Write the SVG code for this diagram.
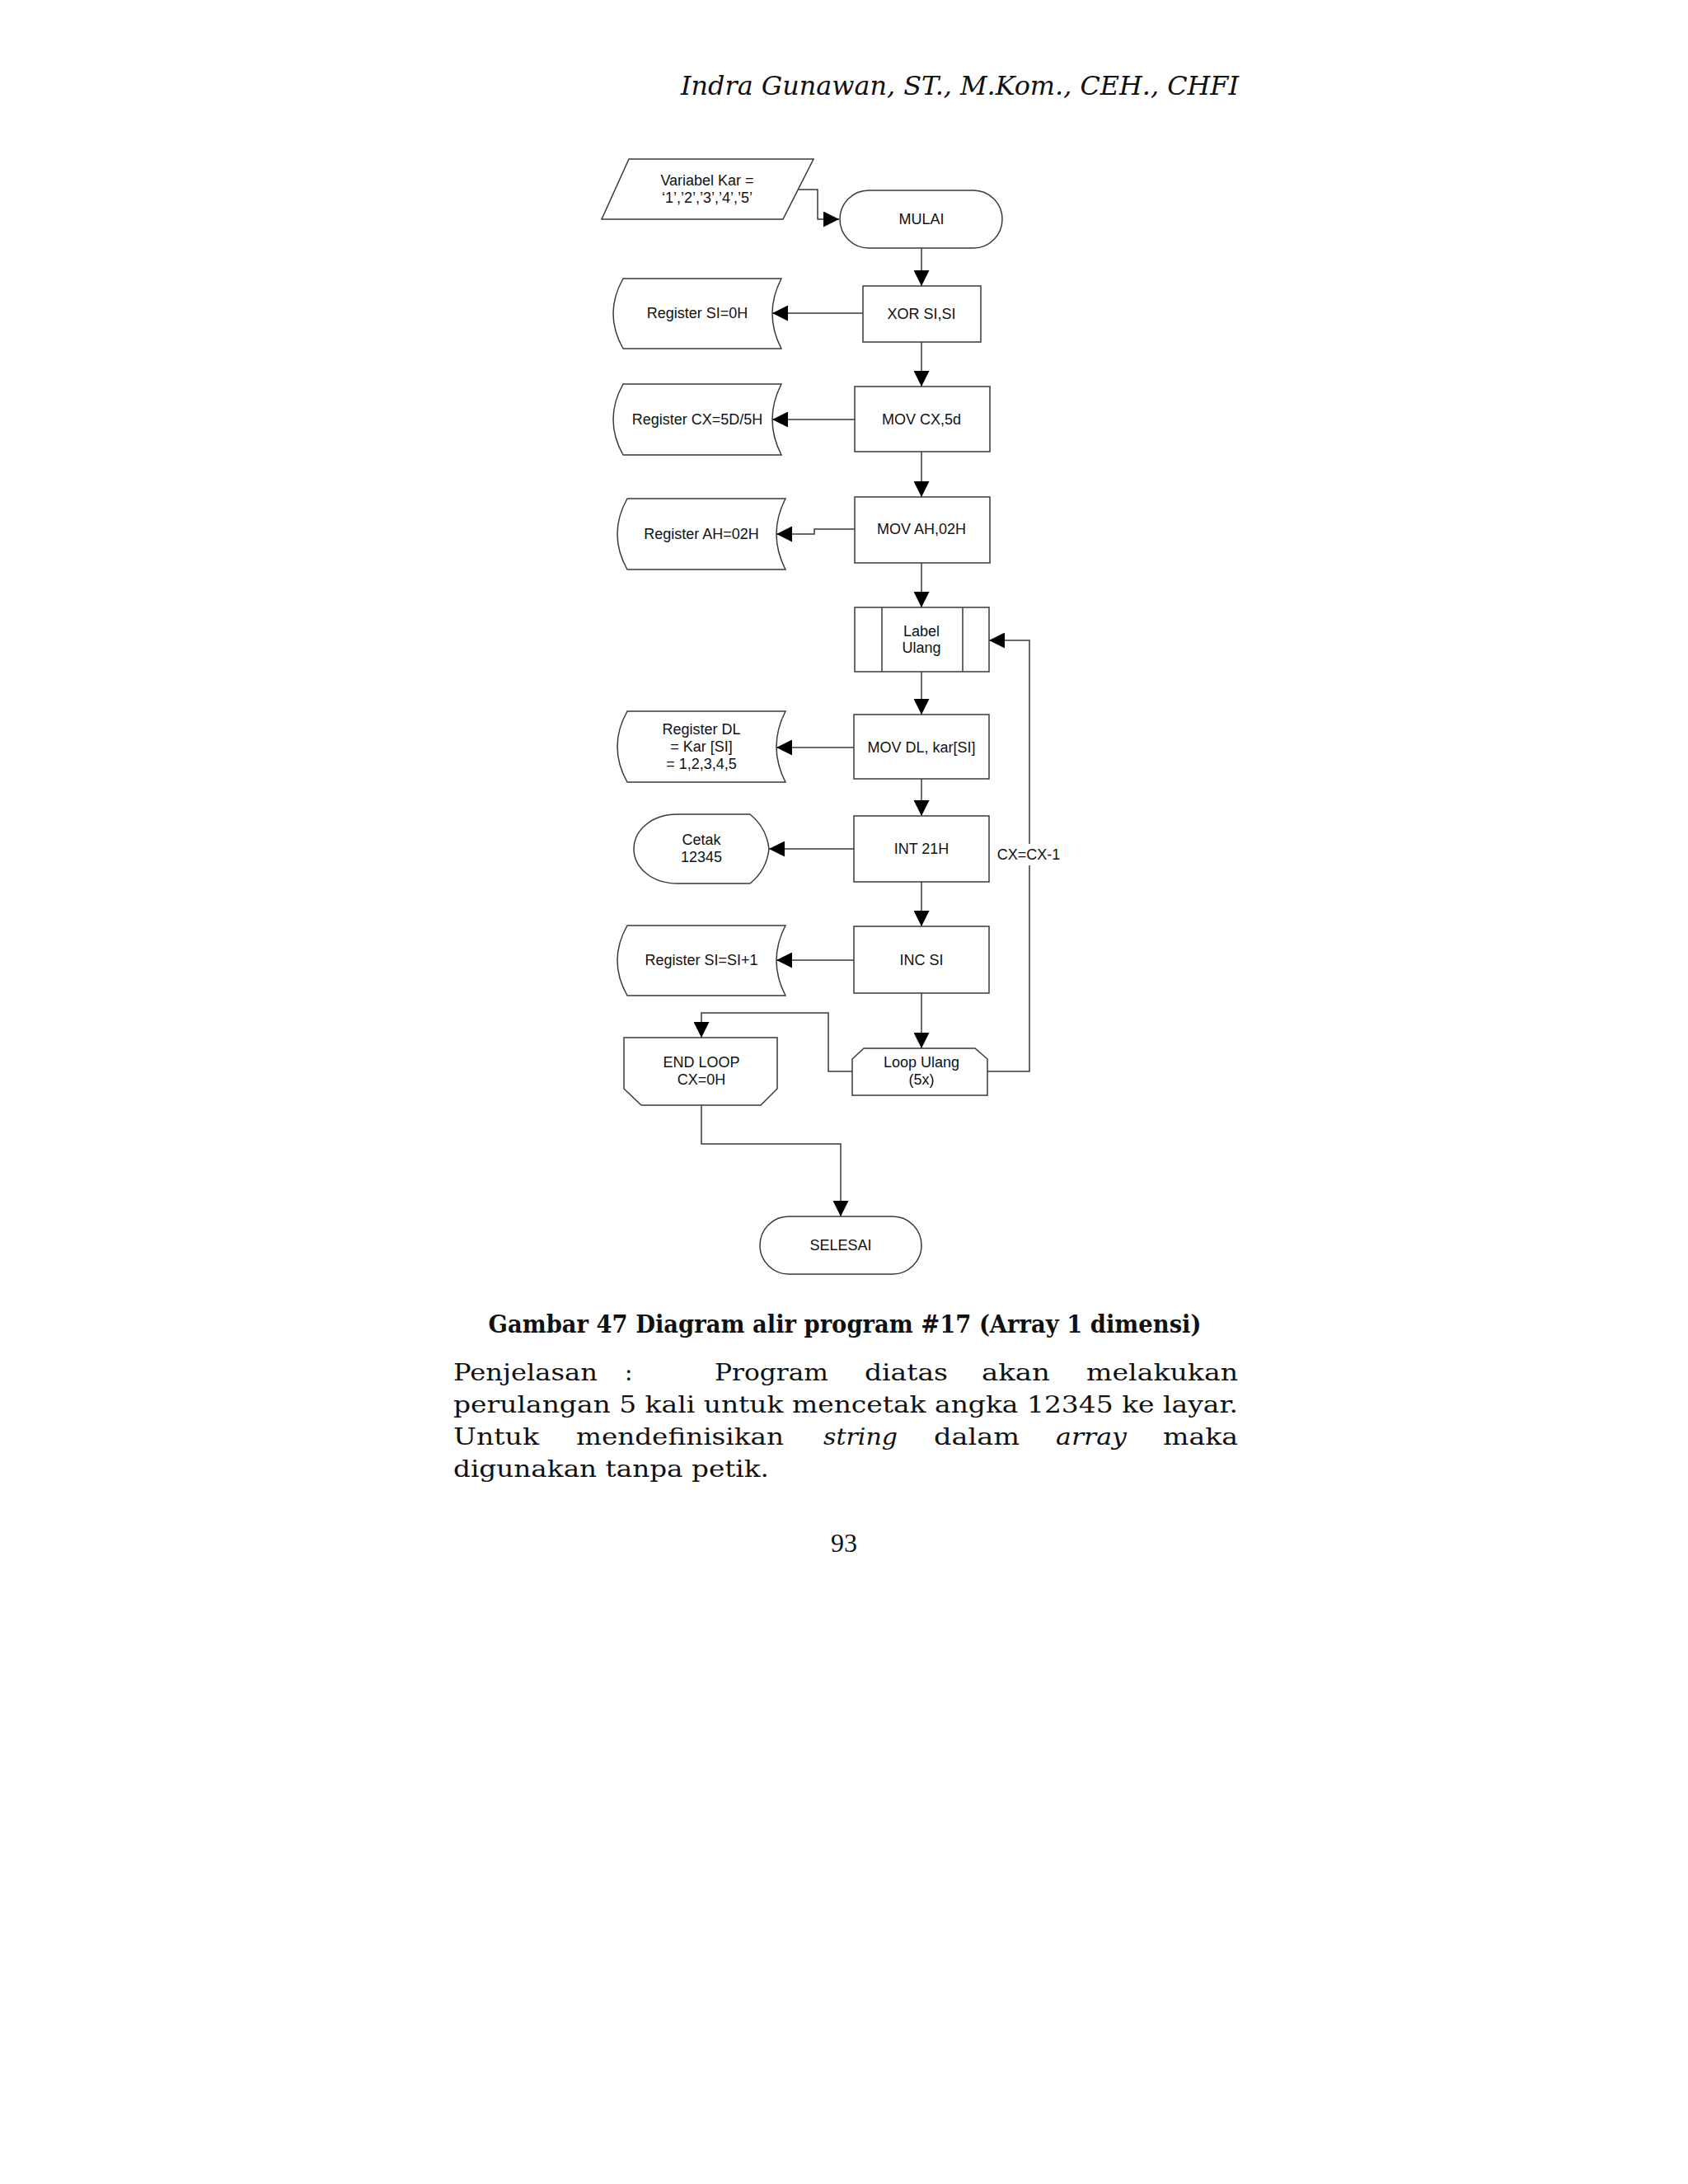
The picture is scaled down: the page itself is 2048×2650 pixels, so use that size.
<svg xmlns="http://www.w3.org/2000/svg" width="2048" height="2650" viewBox="0 0 2048 2650">
<defs>
<marker id="ah" viewBox="0 0 18 18" refX="18" refY="9" markerWidth="19" markerHeight="19" orient="auto" markerUnits="userSpaceOnUse">
<path d="M0,0 L18,9 L0,18 Z" fill="#000"/>
</marker>
<style>
.s{fill:#fff;stroke:#3a3a3a;stroke-width:1.5}
.c{fill:none;stroke:#3a3a3a;stroke-width:1.5}
.a{marker-end:url(#ah)}
.t{font-family:"Liberation Sans",Arial,sans-serif;font-size:18px;fill:#111;text-anchor:middle}
.body{font-family:"DejaVu Serif","Liberation Serif",serif;font-size:28px;fill:#111}
</style>
</defs>
<rect width="2048" height="2650" fill="#fff"/>

<text x="1503" y="115" font-family="DejaVu Serif, Liberation Serif, serif" font-style="italic" font-size="32" fill="#111" text-anchor="end" textLength="677" lengthAdjust="spacingAndGlyphs">Indra Gunawan, ST., M.Kom., CEH., CHFI</text>

<g id="connectors">
<path class="c a" d="M969 230 H992 V266 H1018"/>
<path class="c a" d="M1118 301 V347"/>
<path class="c a" d="M1047 380 H937"/>
<path class="c a" d="M1118 415 V469"/>
<path class="c a" d="M1037 509 H937"/>
<path class="c a" d="M1118 548 V603"/>
<path class="c a" d="M1037 642 H988 V648 H942"/>
<path class="c a" d="M1118 683 V737"/>
<path class="c a" d="M1118 815 V867"/>
<path class="c a" d="M1036 907 H942"/>
<path class="c a" d="M1118 945 V990"/>
<path class="c a" d="M1036 1030 H933"/>
<path class="c a" d="M1118 1070 V1124"/>
<path class="c a" d="M1036 1165 H942"/>
<path class="c a" d="M1118 1205 V1272"/>
<path class="c a" d="M1198 1300 H1249 V777 H1200"/>
<path class="c a" d="M1034 1300 H1005 V1229 H851 V1259"/>
<path class="c a" d="M851 1341 V1388 H1020 V1476"/>
<rect x="1208" y="1024" width="80" height="26" fill="#fff"/>
<text class="t" x="1248" y="1043">CX=CX-1</text>
</g>

<g id="n-variabel">
<path class="s" d="M763 193 H987 L950 266 H730 Z"/>
<text class="t" x="858" y="225">Variabel Kar =</text>
<text class="t" x="858" y="246">‘1’,’2’,’3’,’4’,’5’</text>
</g>

<g id="n-mulai">
<rect class="s" x="1019" y="231" width="197" height="70" rx="35" ry="35"/>
<text class="t" x="1118" y="272">MULAI</text>
</g>

<g id="n-xor">
<rect class="s" x="1047" y="347" width="143" height="68"/>
<text class="t" x="1118" y="387">XOR SI,SI</text>
</g>

<g id="n-reg-si">
<path class="s" d="M756 338 H948 Q926 380.5 948 423 H756 Q732 380.5 756 338 Z"/>
<text class="t" x="846" y="386">Register SI=0H</text>
</g>

<g id="n-movcx">
<rect class="s" x="1037" y="469" width="164" height="79"/>
<text class="t" x="1118" y="515">MOV CX,5d</text>
</g>

<g id="n-reg-cx">
<path class="s" d="M756 466 H948 Q926 509 948 552 H756 Q732 509 756 466 Z"/>
<text class="t" x="846" y="515">Register CX=5D/5H</text>
</g>

<g id="n-movah">
<rect class="s" x="1037" y="603" width="164" height="80"/>
<text class="t" x="1118" y="648">MOV AH,02H</text>
</g>

<g id="n-reg-ah">
<path class="s" d="M761 605 H953 Q931 648 953 691 H761 Q737 648 761 605 Z"/>
<text class="t" x="851" y="654">Register AH=02H</text>
</g>

<g id="n-label">
<rect class="s" x="1037" y="737" width="163" height="78"/>
<path class="c" d="M1070 737 V815 M1168 737 V815"/>
<text class="t" x="1118" y="772">Label</text>
<text class="t" x="1118" y="792">Ulang</text>
</g>

<g id="n-movdl">
<rect class="s" x="1036" y="867" width="164" height="78"/>
<text class="t" x="1118" y="913">MOV DL, kar[SI]</text>
</g>

<g id="n-reg-dl">
<path class="s" d="M761 863 H953 Q931 906 953 949 H761 Q737 906 761 863 Z"/>
<text class="t" x="851" y="891">Register DL</text>
<text class="t" x="851" y="912">= Kar [SI]</text>
<text class="t" x="851" y="933">= 1,2,3,4,5</text>
</g>

<g id="n-int">
<rect class="s" x="1036" y="990" width="164" height="80"/>
<text class="t" x="1118" y="1036">INT 21H</text>
</g>

<g id="n-cetak">
<path class="s" d="M822 988 H910 Q930 1004 933 1030 Q930 1056 910 1072 H822 C790 1072 769 1052 769 1030 C769 1008 790 988 822 988 Z"/>
<text class="t" x="851" y="1025">Cetak</text>
<text class="t" x="851" y="1046">12345</text>
</g>

<g id="n-inc">
<rect class="s" x="1036" y="1124" width="164" height="81"/>
<text class="t" x="1118" y="1171">INC SI</text>
</g>

<g id="n-reg-si1">
<path class="s" d="M761 1123 H953 Q931 1165.5 953 1208 H761 Q737 1165.5 761 1123 Z"/>
<text class="t" x="851" y="1171">Register SI=SI+1</text>
</g>

<g id="n-endloop">
<path class="s" d="M757 1259 H943 V1321 L923 1341 H778 L757 1321 Z"/>
<text class="t" x="851" y="1295">END LOOP</text>
<text class="t" x="851" y="1316">CX=0H</text>
</g>

<g id="n-loopulang">
<path class="s" d="M1048 1272 H1183 L1198 1285 V1329 H1034 V1285 Z"/>
<text class="t" x="1118" y="1295">Loop Ulang</text>
<text class="t" x="1118" y="1316">(5x)</text>
</g>

<g id="n-selesai">
<rect class="s" x="922" y="1476" width="196" height="70" rx="35" ry="35"/>
<text class="t" x="1020" y="1517">SELESAI</text>
</g>

<text x="1025" y="1617" font-family="DejaVu Serif, Liberation Serif, serif" font-weight="bold" font-size="29" fill="#111" text-anchor="middle" textLength="865" lengthAdjust="spacingAndGlyphs">Gambar 47 Diagram alir program #17 (Array 1 dimensi)</text>

<g class="body">
<text x="550" y="1675" textLength="175" lengthAdjust="spacingAndGlyphs">Penjelasan</text>
<text x="758" y="1675">:</text>
<text x="867" y="1675" textLength="138" lengthAdjust="spacingAndGlyphs">Program</text>
<text x="1049" y="1675" textLength="101" lengthAdjust="spacingAndGlyphs">diatas</text>
<text x="1191" y="1675" textLength="83" lengthAdjust="spacingAndGlyphs">akan</text>
<text x="1318" y="1675" textLength="184" lengthAdjust="spacingAndGlyphs">melakukan</text>
<text x="550" y="1714" textLength="952" lengthAdjust="spacingAndGlyphs">perulangan 5 kali untuk mencetak angka 12345 ke layar.</text>
<text x="550" y="1753" textLength="104" lengthAdjust="spacingAndGlyphs">Untuk</text>
<text x="699" y="1753" textLength="252" lengthAdjust="spacingAndGlyphs">mendefinisikan</text>
<text x="999" y="1753" font-style="italic" textLength="90" lengthAdjust="spacingAndGlyphs">string</text>
<text x="1133" y="1753" textLength="104" lengthAdjust="spacingAndGlyphs">dalam</text>
<text x="1281" y="1753" font-style="italic" textLength="86" lengthAdjust="spacingAndGlyphs">array</text>
<text x="1411" y="1753" textLength="91" lengthAdjust="spacingAndGlyphs">maka</text>
<text x="550" y="1792" textLength="383" lengthAdjust="spacingAndGlyphs">digunakan tanpa petik.</text>
</g>

<text x="1024" y="1883" font-family="Liberation Serif, serif" font-size="32" fill="#111" text-anchor="middle">93</text>
</svg>
